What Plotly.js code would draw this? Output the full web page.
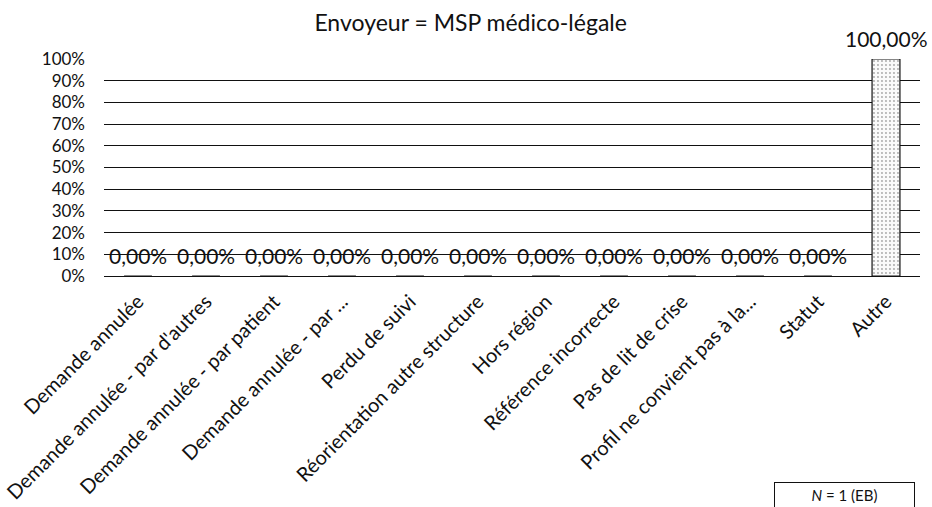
<!DOCTYPE html>
<html>
<head>
<meta charset="utf-8">
<script src="https://cdn.plot.ly/plotly-3.0.1.min.js"></script>
<style>
  html, body { margin: 0; padding: 0; background: #fff; }
  #chart { width: 932px; height: 507px; }
  #edge { position: absolute; left: 0; top: 0; width: 2px; height: 322px; background: #222; }
</style>
</head>
<body>
<div id="edge"></div>
<div id="chart"></div>
<script>
const chartTitle = "Envoyeur = MSP médico-légale";
const categories = [
  "Demande annulée",
  "Demande annulée - par d'autres",
  "Demande annulée - par patient",
  "Demande annulée - par ...",
  "Perdu de suivi",
  "Réorientation autre structure",
  "Hors région",
  "Référence incorrecte",
  "Pas de lit de crise",
  "Profil ne convient pas à la...",
  "Statut",
  "Autre"
];
const shares = [0, 0, 0, 0, 0, 0, 0, 0, 0, 0, 0, 1];
const yTickValues = [0, 0.1, 0.2, 0.3, 0.4, 0.5, 0.6, 0.7, 0.8, 0.9, 1];
const noteText = "<i>N</i> = 1 (EB)";

const FONT = "Lato, Carlito, Calibri, 'Open Sans', sans-serif";

const fmtPct = v => (v * 100).toFixed(2).replace(".", ",") + "%";

const trace = {
  type: "bar",
  x: categories,
  y: shares,
  marker: {
    color: "#f6f6f6",
    line: { color: "#111", width: 1.2 },
    pattern: { shape: ".", fgcolor: "#a8a8a8", bgcolor: "#fafafa", size: 4, solidity: 0.18 }
  },
  hoverinfo: "skip"
};

const valueLabels = categories.map((c, i) => ({
  text: fmtPct(shares[i]),
  xref: "x", yref: "y",
  x: c, y: shares[i],
  xanchor: "center", yanchor: "bottom",
  yshift: 6,
  showarrow: false,
  font: { family: FONT, size: 21, color: "#111" }
}));

const layout = {
  width: 932,
  height: 507,
  paper_bgcolor: "#fff",
  plot_bgcolor: "#fff",
  margin: { l: 104, r: 12, t: 59, b: 231 },
  bargap: 0.59,
  showlegend: false,
  font: { family: FONT, color: "#111" },
  title: {
    text: chartTitle,
    font: { family: FONT, size: 23, color: "#111" },
    x: 0.505, xref: "container", xanchor: "center",
    y: 0.955, yref: "container", yanchor: "middle"
  },
  xaxis: {
    type: "category",
    range: [-0.5, categories.length - 0.5],
    autorange: false,
    tickangle: -45,
    tickfont: { family: FONT, size: 20, color: "#111" },
    showgrid: false,
    showline: false,
    zeroline: false,
    ticks: "",
    ticklabelstandoff: 9
  },
  yaxis: {
    range: [0, 1],
    tickvals: yTickValues,
    tickformat: ".0%",
    tickfont: { family: FONT, size: 17, color: "#111" },
    showgrid: true,
    gridcolor: "#111",
    gridwidth: 1,
    zeroline: true,
    zerolinecolor: "#111",
    zerolinewidth: 1,
    showline: false,
    ticks: "",
    ticklabelstandoff: 18
  },
  annotations: valueLabels.concat([{
    text: noteText,
    xref: "paper", yref: "paper",
    x: 0.908, y: (276 - 482) / 217,
    xanchor: "center", yanchor: "top",
    valign: "top",
    borderpad: 3,
    showarrow: false,
    font: { family: FONT, size: 15, color: "#111" },
    bordercolor: "#111",
    borderwidth: 1,
    width: 133,
    height: 30,
    bgcolor: "#fff"
  }])
};

Plotly.newPlot("chart", [trace], layout, { staticPlot: true, displayModeBar: false });
</script>
</body>
</html>
